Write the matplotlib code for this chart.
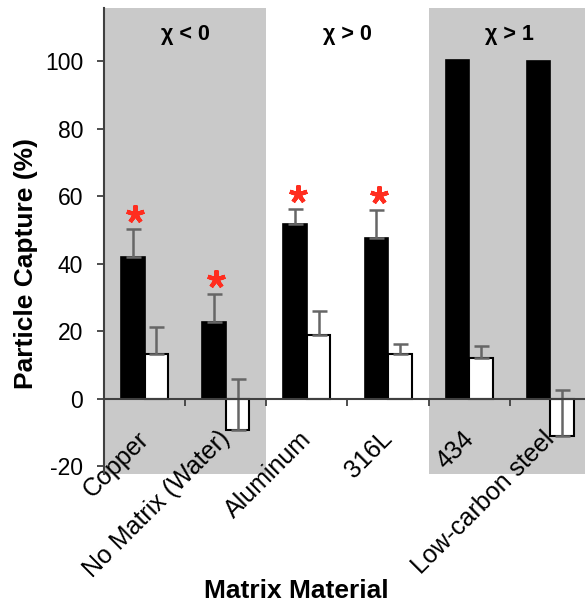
import matplotlib
matplotlib.use("Agg")
import matplotlib.pyplot as plt
import matplotlib.transforms as mtransforms
import numpy as np

plt.rcParams['font.family'] = ['Liberation Sans', 'DejaVu Sans']
plt.rcParams['axes.unicode_minus'] = False

# values
materials = ["Copper", "No Matrix (Water)", "Aluminum", "316L", "434", "Low-carbon steel"]
capture_black = [41.9, 22.8, 51.9, 47.6, 100.4, 100.1]
black_err = [8.3, 8.3, 4.4, 8.3, 0.0, 0.0]
capture_white = [13.4, -9.3, 18.8, 13.4, 12.2, -11.1]
white_err = [8.0, 15.1, 7.1, 2.8, 3.5, 13.8]
significant = [True, True, True, True, False, False]

group_labels = ["\u03c7 < 0", "\u03c7 > 0", "\u03c7 > 1"]
group_first = [0, 2, 4]
group_last = [1, 3, 5]
group_shaded = [True, False, True]

y_ticks = [-20, 0, 20, 40, 60, 80, 100]

GRAY = "#c9c9c9"
AXIS = "#404040"
ERR = "#666666"
RED = "#ff2d1f"

fig = plt.figure(figsize=(5.85, 6.06), dpi=100)
ax = fig.add_axes([104 / 585, 0.218, 487 / 585, 0.769])

x = np.arange(len(materials))
w = 0.29

# shaded regions behind the groups
for first, last, shaded in zip(group_first, group_last, group_shaded):
    if shaded:
        ax.axvspan(first - 0.5, last + 0.5, color=GRAY, zorder=0, lw=0)

ax.bar(x - w / 2, capture_black, w, color="black", edgecolor="black", linewidth=1.2, zorder=2)
ax.bar(x + w / 2, capture_white, w, color="white", edgecolor="black", linewidth=1.5, zorder=2)

# only the "plus" side of the error bars is shown
for i in range(len(materials)):
    if black_err[i] > 0:
        ax.errorbar(x[i] - w / 2, capture_black[i], yerr=[[0], [black_err[i]]], fmt="none",
                    ecolor=ERR, elinewidth=1.8, capsize=5.4, capthick=1.8, zorder=3)
    if white_err[i] > 0:
        ax.errorbar(x[i] + w / 2, capture_white[i], yerr=[[0], [white_err[i]]], fmt="none",
                    ecolor=ERR, elinewidth=1.8, capsize=5.4, capthick=1.8, zorder=3)

# red asterisks for significant results
for i in range(len(materials)):
    if significant[i]:
        ax.plot(x[i] - w / 2 + 0.03, capture_black[i] + black_err[i] + 4.5, marker=(5, 2, 0),
                ms=13, mew=3, color=RED, zorder=4)

trans = mtransforms.blended_transform_factory(ax.transData, ax.transAxes)
for lab, first, last in zip(group_labels, group_first, group_last):
    ax.text((first + last) / 2, 0.931, lab, transform=trans, ha="center", va="baseline",
            fontsize=15.5, fontweight="bold")

ax.set_xlim(-0.5, 5.5)
ax.set_ylim(-22.2, 115.8)

ax.spines["top"].set_visible(False)
ax.spines["right"].set_visible(False)
ax.spines["bottom"].set_position(("data", 0))
ax.spines["bottom"].set_color(AXIS)
ax.spines["left"].set_color(AXIS)
ax.spines["bottom"].set_linewidth(1.5)
ax.spines["left"].set_linewidth(1.5)
ax.spines["bottom"].set_zorder(5)

ax.set_yticks(y_ticks)
ax.tick_params(axis="y", direction="out", length=5, width=1.3, color=AXIS, labelsize=16.5, pad=10)

ax.set_xticks(x)
ax.set_xticks(np.arange(-0.5, 6.0, 1.0), minor=True)
ax.set_xticklabels(materials, rotation=45, ha="right", va="top", rotation_mode="anchor", fontsize=18)
ax.tick_params(axis="x", which="major", length=0, pad=20)
ax.tick_params(axis="x", which="minor", direction="out", length=5, width=1.3, color=AXIS)
offset = mtransforms.ScaledTranslation(-8 / 100, 0, fig.dpi_scale_trans)
for t in ax.get_xticklabels():
    t.set_transform(t.get_transform() + offset)

ax.set_xlabel("Matrix Material", fontsize=19, fontweight="bold", va="center")
ax.set_ylabel("Particle Capture (%)", fontsize=19, fontweight="bold", va="center")
ax.xaxis.set_label_coords(0.395, -0.251)
ax.yaxis.set_label_coords(-0.16, 0.452)

fig.savefig("out.png", dpi=100)
